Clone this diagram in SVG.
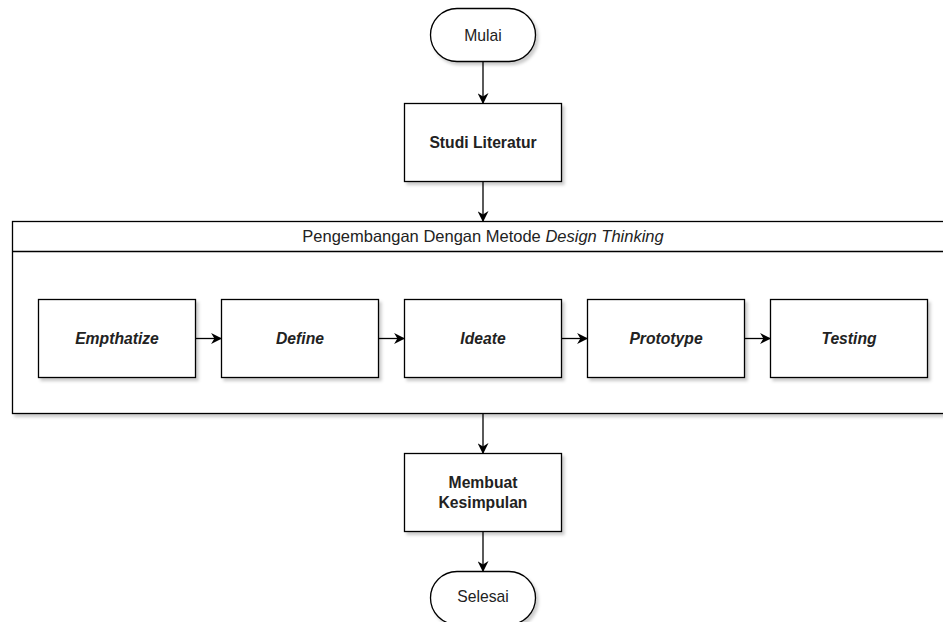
<svg xmlns="http://www.w3.org/2000/svg" width="943" height="622" viewBox="0 0 943 622">
<defs>
<filter id="sh" x="-10%" y="-10%" width="130%" height="130%">
<feDropShadow dx="2.5" dy="3" stdDeviation="1.5" flood-color="#000" flood-opacity="0.2"/>
</filter>
<marker id="arr" viewBox="0 0 10 10" refX="9" refY="5" markerWidth="11" markerHeight="11" markerUnits="userSpaceOnUse" orient="auto">
<path d="M0,0 L10,5 L0,10 L3,5 Z" fill="#000"/>
</marker>
</defs>
<style>
.box{fill:#fff;stroke:#000;stroke-width:1.3;filter:url(#sh)}
.t{font-family:"Liberation Sans",Arial,sans-serif;font-size:15.7px;fill:#222;text-anchor:middle}
.h{font-size:16.5px}
.b{font-weight:bold}
.i{font-style:italic;font-weight:bold}
.c{stroke:#000;stroke-width:1.3;fill:none;marker-end:url(#arr)}
</style>
<rect width="943" height="622" fill="#fff"/>
<g id="container">
<rect class="box" x="12.5" y="221.5" width="940" height="192"/>
<line x1="12.5" y1="251.5" x2="952.5" y2="251.5" stroke="#000" stroke-width="1.3"/>
<text class="t h" x="483" y="241.5">Pengembangan Dengan Metode <tspan font-style="italic">Design Thinking</tspan></text>
</g>
<g id="mulai">
<rect class="box" x="430.5" y="8.5" width="105" height="53" rx="26.5" ry="26.5"/>
<text class="t" x="483" y="40.5">Mulai</text>
</g>
<g id="studi">
<rect class="box" x="404.5" y="103.5" width="157" height="78"/>
<text class="t b" x="483" y="148">Studi Literatur</text>
</g>
<g id="empthatize">
<rect class="box" x="38.5" y="299.5" width="157" height="78"/>
<text class="t i" x="117" y="344">Empthatize</text>
</g>
<g id="define">
<rect class="box" x="221.5" y="299.5" width="157" height="78"/>
<text class="t i" x="300" y="344">Define</text>
</g>
<g id="ideate">
<rect class="box" x="404.5" y="299.5" width="157" height="78"/>
<text class="t i" x="483" y="344">Ideate</text>
</g>
<g id="prototype">
<rect class="box" x="587.5" y="299.5" width="157" height="78"/>
<text class="t i" x="666" y="344">Prototype</text>
</g>
<g id="testing">
<rect class="box" x="770.5" y="299.5" width="157" height="78"/>
<text class="t i" x="849" y="344">Testing</text>
</g>
<g id="kesimpulan">
<rect class="box" x="404.5" y="453.5" width="157" height="78"/>
<text class="t b" x="483" y="488">Membuat</text>
<text class="t b" x="483" y="508">Kesimpulan</text>
</g>
<g id="selesai">
<rect class="box" x="430.5" y="571.5" width="105" height="53" rx="26.5" ry="26.5"/>
<text class="t" x="483" y="602">Selesai</text>
</g>
<g id="connectors">
<line class="c" x1="483" y1="62" x2="483" y2="103"/>
<line class="c" x1="483" y1="182" x2="483" y2="221"/>
<line class="c" x1="196" y1="338.5" x2="221" y2="338.5"/>
<line class="c" x1="379" y1="338.5" x2="404" y2="338.5"/>
<line class="c" x1="562" y1="338.5" x2="587" y2="338.5"/>
<line class="c" x1="745" y1="338.5" x2="770" y2="338.5"/>
<line class="c" x1="483" y1="414" x2="483" y2="453"/>
<line class="c" x1="483" y1="532" x2="483" y2="571"/>
</g>
</svg>
